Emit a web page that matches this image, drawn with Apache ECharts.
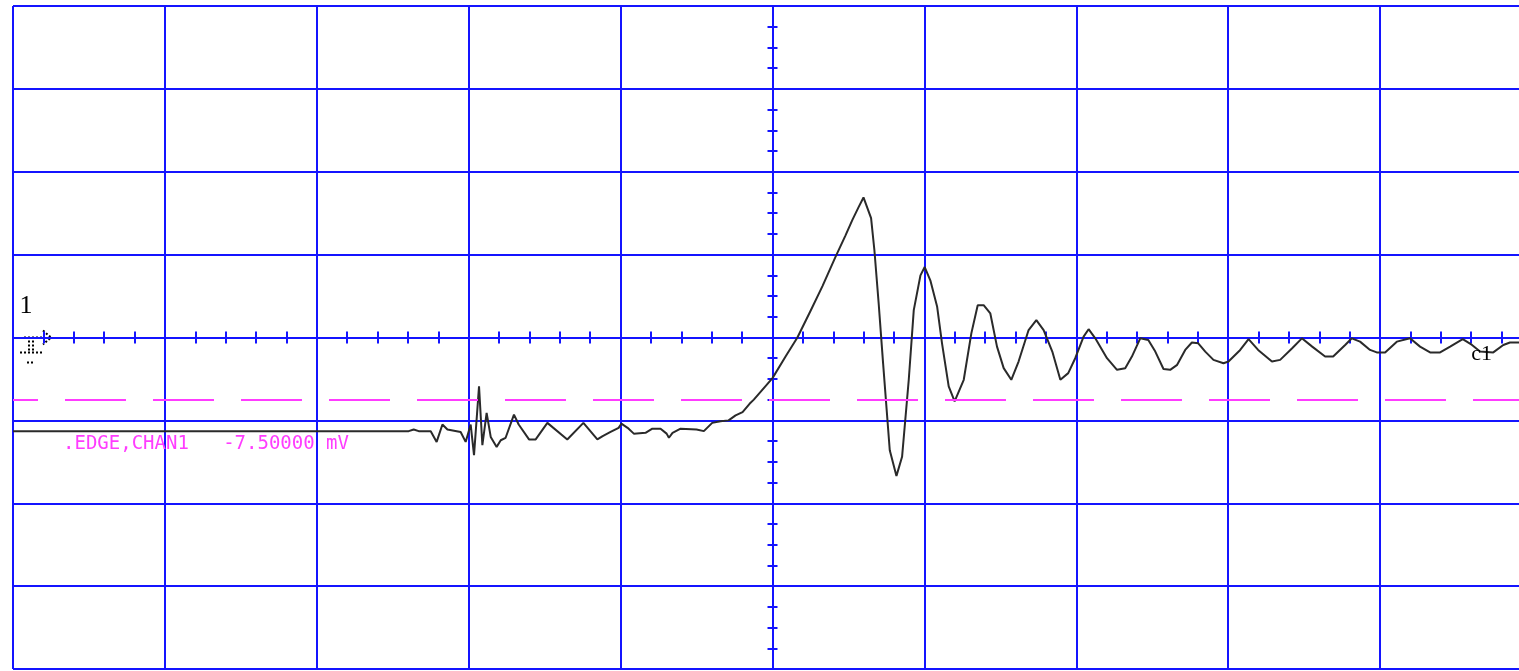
<!DOCTYPE html>
<html>
<head>
<meta charset="utf-8">
<title>CHAN1</title>
<script src="https://cdn.jsdelivr.net/npm/echarts@6/dist/echarts.min.js"></script>
<style>
html,body{margin:0;padding:0;background:#fff;overflow:hidden;}
#scope{width:1519px;height:671px;}
</style>
</head>
<body>
<div id="scope"></div>
<script>
//time, in divisions (trigger point = 0)
var timeDiv = [-5, -2.395, -2.362, -2.329, -2.25, -2.211, -2.173, -2.14, -2.053, -2.02,
	-1.987, -1.965, -1.932, -1.91, -1.882, -1.855, -1.816, -1.789, -1.757, -1.702,
	-1.671, -1.603, -1.559, -1.482, -1.351, -1.245, -1.153, -1.118, -1.066, -1.013,
	-0.995, -0.954, -0.913, -0.836, -0.791, -0.737, -0.697, -0.682, -0.658, -0.605,
	-0.5, -0.452, -0.397, -0.342, -0.289, -0.243, -0.197, -0.151, -0.123, 0,
	0.086, 0.164, 0.25, 0.329, 0.414, 0.48, 0.526, 0.566, 0.599, 0.649,
	0.671, 0.699, 0.728, 0.772, 0.816, 0.853, 0.897, 0.93, 0.974, 1.002,
	1.039, 1.084, 1.116, 1.16, 1.199, 1.259, 1.309, 1.351, 1.39, 1.434,
	1.478, 1.522, 1.572, 1.62, 1.686, 1.737, 1.785, 1.842, 1.895, 1.947,
	1.993, 2.048, 2.081, 2.125, 2.202, 2.268, 2.322, 2.366, 2.421, 2.474,
	2.52, 2.574, 2.618, 2.664, 2.717, 2.761, 2.803, 2.849, 2.903, 2.969,
	3.002, 3.079, 3.134, 3.197, 3.288, 3.342, 3.421, 3.485, 3.553, 3.638,
	3.691, 3.77, 3.814, 3.868, 3.934, 3.978, 4.033, 4.11, 4.197, 4.263,
	4.329, 4.395, 4.461, 4.544, 4.605, 4.658, 4.745, 4.811, 4.855, 4.91, 5];
//channel 1, mV (10 mV/div)
var chan1 = [-11.3, -11.3, -11.1, -11.3, -11.3, -12.6, -10.5, -11.1, -11.4, -12.6,
	-10.5, -14.2, -5.9, -13.0, -9.1, -12.0, -13.2, -12.4, -12.1, -9.3,
	-10.5, -12.3, -12.3, -10.3, -12.3, -10.3, -12.3, -11.9, -11.4, -10.9,
	-10.4, -10.9, -11.6, -11.5, -11.0, -11.0, -11.6, -12.1, -11.5, -11.0,
	-11.1, -11.3, -10.3, -10.1, -10.0, -9.4, -9.0, -8.0, -7.5, -4.9,
	-2.3, 0, 3.2, 6.2, 9.7, 12.3, 14.2, 15.7, 16.9, 14.4,
	10.5, 4.1, -3.1, -13.6, -16.7, -14.4, -5.1, 3.3, 7.5, 8.5,
	6.9, 3.7, -0.7, -5.9, -7.7, -5.1, 0.5, 3.9, 3.9, 2.9,
	-1.1, -3.7, -5.1, -2.9, 0.9, 2.1, 0.9, -1.7, -5.1, -4.3,
	-2.5, 0.1, 1.0, -0.1, -2.5, -3.9, -3.7, -2.3, -0.1, -0.3,
	-1.7, -3.8, -3.9, -3.3, -1.5, -0.6, -0.7, -1.7, -2.7, -3.1,
	-2.9, -1.5, -0.2, -1.5, -2.9, -2.7, -1.3, -0.1, -1.1, -2.3,
	-2.3, -0.9, -0.1, -0.5, -1.5, -1.8, -1.8, -0.5, -0.1, -1.1,
	-1.8, -1.8, -1.1, -0.2, -0.9, -1.7, -1.8, -0.9, -0.6, -0.6, -0.6];
//trigger level, mV
var trigLevel = -7.5;
var trigText = '.EDGE,CHAN1   -7.50000 mV';

var blue = '#1414ff';
var magenta = '#ff3cff';

//centre axis with ticks (one half of the tick on each side)
function centreAxis(pos, min, max, step, minorSplit, tickLen, showGrid){
	return {
		type: 'value', position: pos, min: min, max: max, interval: step,
		axisLine: {show: true, onZero: true, onZeroAxisIndex: 0, lineStyle: {color: blue, width: 2}},
		axisTick: {show: true, length: tickLen, lineStyle: {color: blue, width: 2}},
		minorTick: {show: true, splitNumber: minorSplit, length: tickLen, lineStyle: {color: blue, width: 2}},
		axisLabel: {show: false},
		splitLine: {show: showGrid, lineStyle: {color: blue, width: 2}}
	};
}

var pts = timeDiv.map(function(t, i){ return [t, chan1[i]]; });

var myChart = echarts.init(document.getElementById('scope'));
myChart.setOption({
	animation: false,
	backgroundColor: '#fff',
	grid: {left: 13, right: -13, top: 6, bottom: 2, outerBoundsMode: 'none'},
	xAxis: [
		centreAxis('bottom', -5, 5, 1, 5, 6, true),
		centreAxis('top', -5, 5, 1, 5, 6, false)
	],
	yAxis: [
		centreAxis('left', -40, 40, 10, 4, 5, true),
		centreAxis('right', -40, 40, 10, 4, 5, false)
	],
	series: [{
		name: 'CHAN1',
		type: 'line',
		data: pts,
		showSymbol: false,
		lineStyle: {color: '#2a2a2a', width: 2},
		z: 3,
		markLine: {
			silent: true,
			symbol: 'none',
			label: {show: false},
			lineStyle: {color: magenta, width: 2, type: [61, 27], dashOffset: 36},
			data: [{yAxis: trigLevel}]
		}
	}]
});

////screen annotations////
var g0 = myChart.convertToPixel({seriesIndex: 0}, [-5, 0]);
var cEnd = myChart.convertToPixel({seriesIndex: 0}, [4.6, -2]);
var dot = {stroke: '#000', lineWidth: 2, lineDash: [2, 2], fill: null};
myChart.setOption({
	graphic: [
		{type: 'text', x: g0[0] + 13, y: g0[1] - 31, z: 10,
			style: {text: '1', font: '26px "Liberation Serif"', fill: '#000', align: 'center', verticalAlign: 'middle'}},
		{type: 'group', x: g0[0], y: g0[1], z: 10, children: [
			{type: 'polyline', shape: {points: [[11, 0], [31, 0]]}, style: dot},
			{type: 'polyline', shape: {points: [[30, -7], [38, 0], [30, 7]]}, style: dot},
			{type: 'polyline', shape: {points: [[16, 3], [16, 13]]}, style: dot},
			{type: 'polyline', shape: {points: [[20, 3], [20, 13]]}, style: dot},
			{type: 'polyline', shape: {points: [[7, 15], [29, 15]]}, style: dot},
			{type: 'polyline', shape: {points: [[14, 25], [21, 25]]}, style: dot}
		]},
		{type: 'text', x: cEnd[0], y: cEnd[1], z: 10,
			style: {text: 'c1', font: '22px "Liberation Serif"', fill: '#000', align: 'left', verticalAlign: 'middle'}},
		{type: 'text', x: 63, y: 444, z: 1,
			style: {text: trigText, font: '19px "DejaVu Sans Mono"', fill: magenta, align: 'left', verticalAlign: 'middle'}}
	]
});
</script>
</body>
</html>
